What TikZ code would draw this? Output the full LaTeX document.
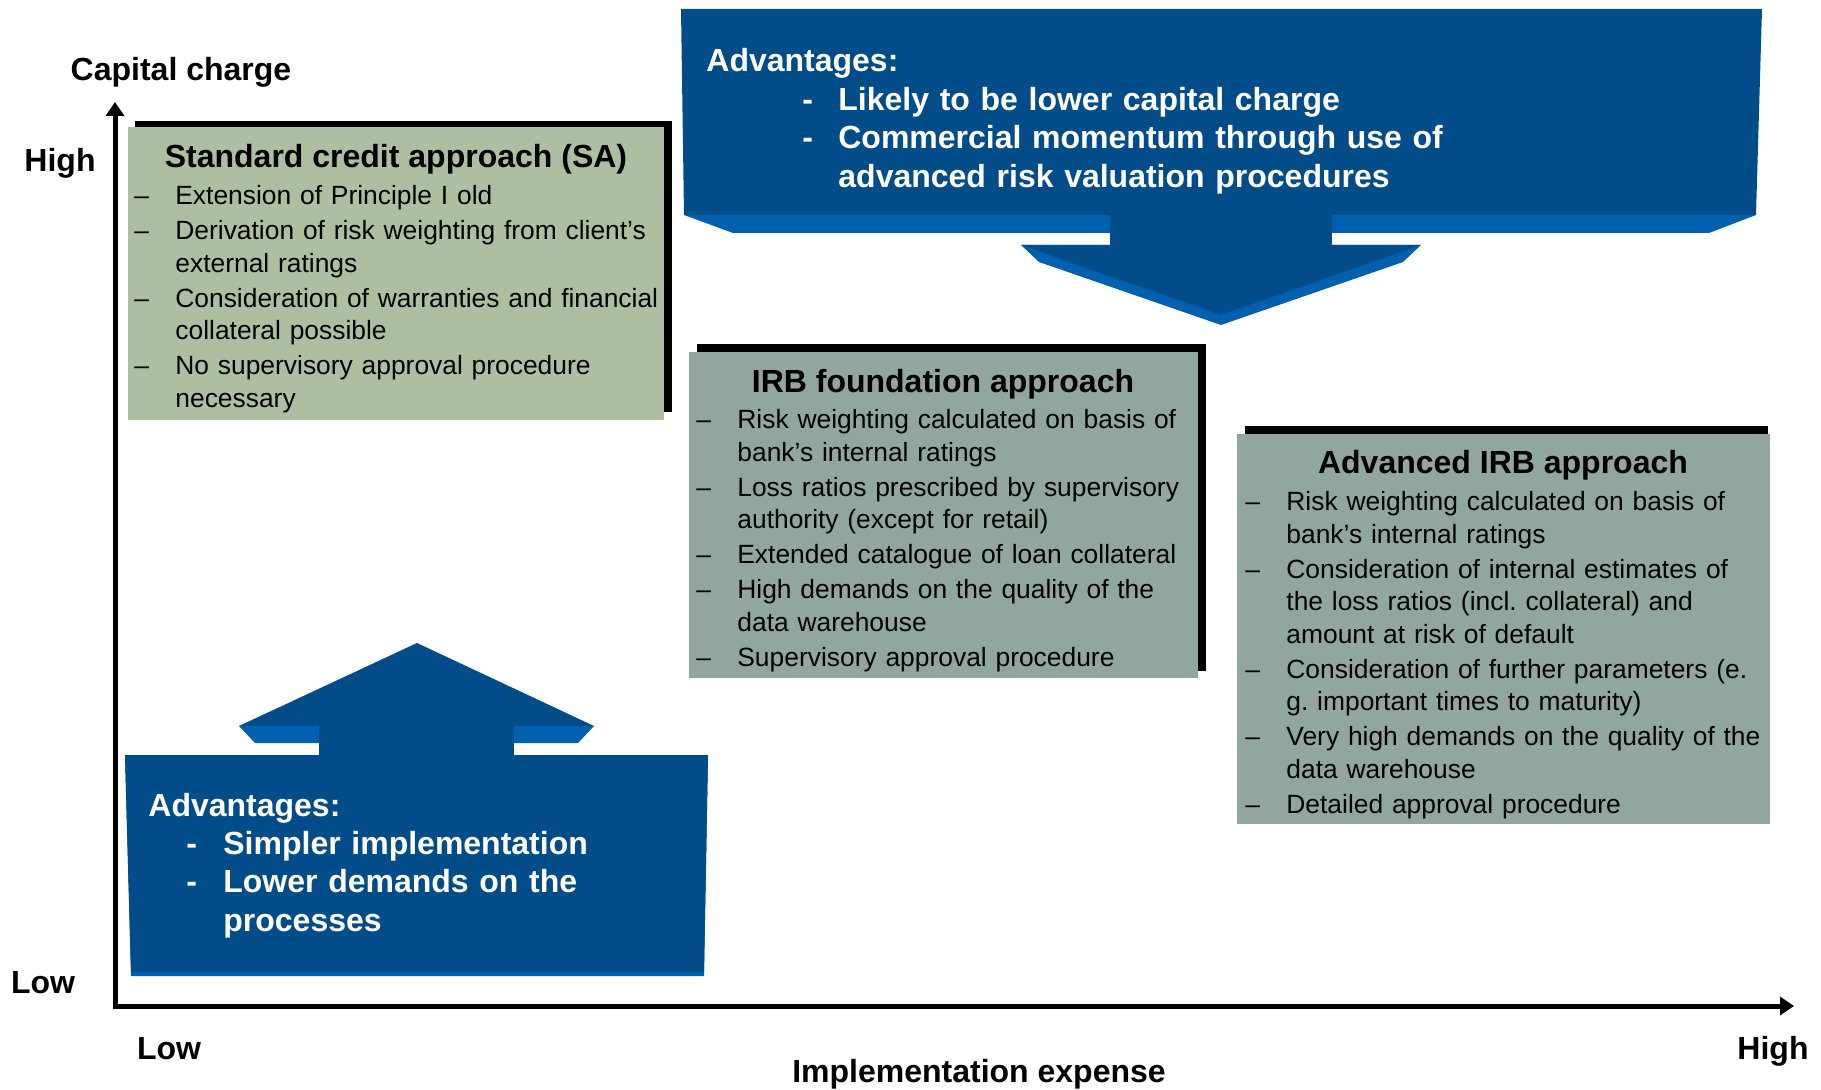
\documentclass[tikz,border=0pt]{standalone}
\usepackage{fontspec}
\setmainfont{Liberation Sans}
\usetikzlibrary{arrows.meta}

\definecolor{cbdark}{RGB}{2,76,138}
\definecolor{cblight}{RGB}{0,96,176}
\definecolor{sagreen}{RGB}{173,191,160}
\definecolor{irbgray}{RGB}{145,166,161}

% list items: dash in front, hanging indent for the wrapped lines
\newcommand{\itm}[1]{\hangindent=20.5pt\hangafter=1\noindent\makebox[20.5pt][l]{\textendash}#1\par}
\newcommand{\advitm}[3]{\hangindent=#2\hangafter=1\noindent\hspace*{#1}\makebox[\dimexpr#2-#1\relax][l]{-}#3\par}

\begin{document}
\frenchspacing
\begin{tikzpicture}
[x=0.5pt,y=-0.5pt,
 txt/.style={inner sep=0pt,font=\fontsize{13.2}{16.25}\selectfont},
 ttl/.style={inner sep=0pt,font=\fontsize{16}{19}\selectfont\bfseries},
 lst/.style={txt,anchor=base west,text width=300pt,align=left},
 advlst/.style={inner sep=0pt,anchor=base west,text width=420pt,align=left,text=white,
   font=\fontsize{16}{19.2}\selectfont\bfseries},
 axis/.style={line width=2.5pt,{Triangle[length=7pt,width=9pt]}-{Triangle[length=7pt,width=9pt]}}]
\useasboundingbox (0,0) rectangle (1821,1090);

% boxes with their black shadows
\fill (135,121) rectangle (672,412);
\fill[sagreen] (128,127) rectangle (664,420);
\fill (697,344) rectangle (1206,671);
\fill[irbgray] (689,352) rectangle (1198,678);
\fill (1245,426) rectangle (1768,816);
\fill[irbgray] (1237,434) rectangle (1770,824);

% callout pointing down
\fill[cblight] (684,215) -- (1756,215) -- (1709,233) -- (733,233) -- cycle;
\fill[cbdark] (681,9) -- (1762,9) -- (1756,215) -- (684,215) -- cycle;
\fill[cbdark] (1110,210) rectangle (1332,247);
\fill[cblight] (1021,245) -- (1421,245) -- (1403,262) -- (1221,325) -- (1039,262) -- cycle;
\fill[cbdark] (1021,245) -- (1421,245) -- (1221,315) -- cycle;

% callout pointing up
\fill[cblight] (239,726) -- (594,726) -- (578,743) -- (255,743) -- cycle;
\fill[cbdark] (239,726) -- (594,726) -- (417,643) -- cycle;
\fill[cbdark] (319,720) rectangle (514,760);
\fill[cblight] (125,755) -- (708,755) -- (704,976) -- (131,976) -- cycle;
\fill[cbdark] (125,755) -- (708,755) -- (704,972) -- (131,972) -- cycle;

% axes
\coordinate (ytop) at (115,102);
\coordinate (orig) at (115,1006);
\coordinate (xend) at (1794,1006);
\draw[axis] (ytop) -- (orig) -- (xend);

\node[ttl,anchor=base] (ylbl) at (181,81) {Capital charge};
\node[ttl,anchor=base] (yhigh) at (60,172) {High};
\node[ttl,anchor=base] (ylow) at (43,993) {Low};
\node[ttl,anchor=base] (xlow) at (169,1059) {Low};
\node[ttl,anchor=base] (xhigh) at (1773,1059) {High};
\node[ttl,anchor=base] (xlbl) at (979,1082) {Implementation expense};

% standard approach
\node[ttl,anchor=base] (satitle) at (396,168) {Standard credit approach (SA)};
\node[lst] (salist) at (134,205) {\setlength{\parskip}{1.25pt}%
 \itm{Extension of Principle I old}
 \itm{Derivation of risk weighting from client’s\newline external ratings}
 \itm{Consideration of warranties and financial\newline collateral possible}
 \itm{No supervisory approval procedure\newline necessary}};

% IRB foundation
\node[ttl,anchor=base] (fntitle) at (943,393) {IRB foundation approach};
\node[lst] (fnlist) at (696,429) {\setlength{\parskip}{1.25pt}%
 \itm{Risk weighting calculated on basis of\newline bank’s internal ratings}
 \itm{Loss ratios prescribed by supervisory\newline authority (except for retail)}
 \itm{Extended catalogue of loan collateral}
 \itm{High demands on the quality of the\newline data warehouse}
 \itm{Supervisory approval procedure}};

% advanced IRB
\node[ttl,anchor=base] (avtitle) at (1503,474) {Advanced IRB approach};
\node[lst] (avlist) at (1245,511) {\setlength{\parskip}{1.25pt}%
 \itm{Risk weighting calculated on basis of\newline bank’s internal ratings}
 \itm{Consideration of internal estimates of\newline the loss ratios (incl. collateral) and\newline amount at risk of default}
 \itm{Consideration of further parameters (e.\newline g. important times to maturity)}
 \itm{Very high demands on the quality of the\newline data warehouse}
 \itm{Detailed approval procedure}};

% advantages
\node[advlst] (topadv) at (706,72) {Advantages:\par
 \advitm{48pt}{66pt}{Likely to be lower capital charge}
 \advitm{48pt}{66pt}{Commercial momentum through use of\newline advanced risk valuation procedures}};
\node[advlst] (botadv) at (148,816) {Advantages:\par
 \advitm{19pt}{37.5pt}{Simpler implementation}
 \advitm{19pt}{37.5pt}{Lower demands on the\newline processes}};
\end{tikzpicture}
\end{document}
